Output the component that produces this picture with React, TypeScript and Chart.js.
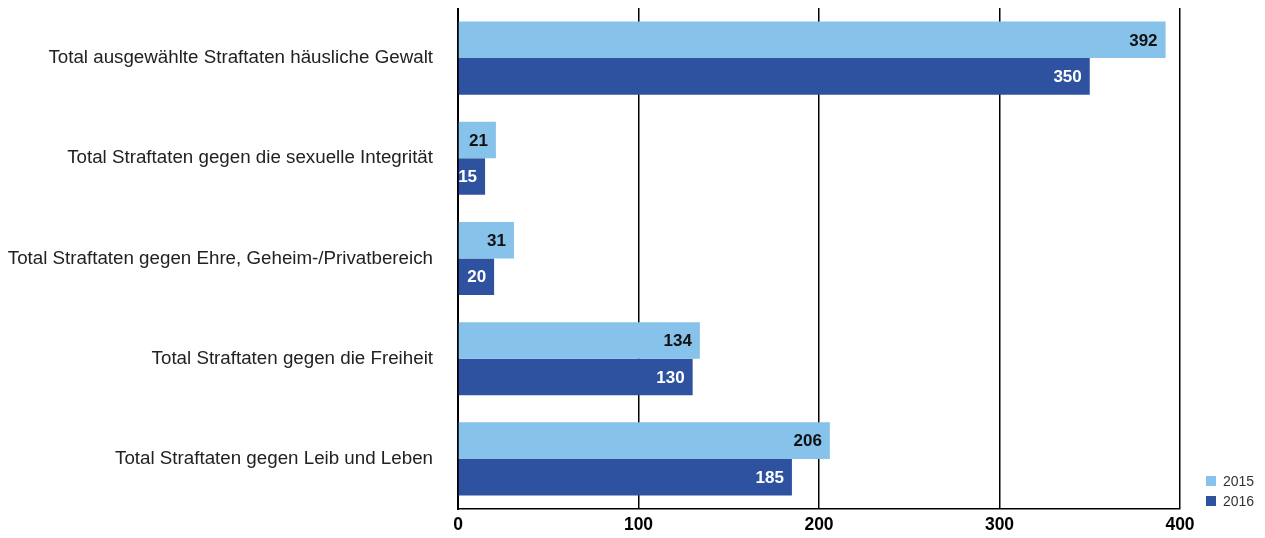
import React, { useEffect, useRef } from "react";
import { Chart, registerables } from "chart.js";

Chart.register(...registerables);

const categories = [
  "Total ausgewählte Straftaten häusliche Gewalt",
  "Total Straftaten gegen die sexuelle Integrität",
  "Total Straftaten gegen Ehre, Geheim-/Privatbereich",
  "Total Straftaten gegen die Freiheit",
  "Total Straftaten gegen Leib und Leben",
];
const values2015 = [392, 21, 31, 134, 206];
const values2016 = [350, 15, 20, 130, 185];
const seriesLabels = ["2015", "2016"];
const seriesColors = ["#86C2EA", "#2E52A0"];
const xTicks = [0, 100, 200, 300, 400];

const FONT = "'Liberation Sans', Arial, Helvetica, sans-serif";

const valueLabels = {
  id: "valueLabels",
  afterDatasetsDraw(chart: any) {
    const ctx = chart.ctx;
    ctx.save();
    ctx.font = `bold 17px ${FONT}`;
    ctx.textBaseline = "middle";
    ctx.textAlign = "right";
    chart.data.datasets.forEach((ds: any, di: number) => {
      const meta = chart.getDatasetMeta(di);
      ctx.fillStyle = di === 0 ? "#111111" : "#ffffff";
      meta.data.forEach((bar: any, i: number) => {
        ctx.fillText(String(ds.data[i]), bar.x - 8, bar.y + 1);
      });
    });
    ctx.restore();
  },
};

const sideLegend = {
  id: "sideLegend",
  afterDraw(chart: any) {
    const ctx = chart.ctx;
    const area = chart.chartArea;
    const n = chart.data.datasets.length;
    ctx.save();
    ctx.font = `14px ${FONT}`;
    ctx.textBaseline = "middle";
    ctx.textAlign = "left";
    chart.data.datasets.forEach((ds: any, i: number) => {
      const cy = area.bottom - 8 - (n - 1 - i) * 20;
      ctx.fillStyle = ds.backgroundColor;
      ctx.fillRect(area.right + 26, cy - 5, 10, 10);
      ctx.fillStyle = "#333333";
      ctx.fillText(ds.label, area.right + 43, cy + 1);
    });
    ctx.restore();
  },
};

export default function App() {
  const ref = useRef<HTMLCanvasElement | null>(null);
  useEffect(() => {
    if (!ref.current) return;
    const chart = new Chart(ref.current, {
      type: "bar",
      data: {
        labels: categories,
        datasets: [
          {
            label: seriesLabels[0],
            data: values2015,
            backgroundColor: seriesColors[0],
            categoryPercentage: 0.73,
            barPercentage: 1,
          },
          {
            label: seriesLabels[1],
            data: values2016,
            backgroundColor: seriesColors[1],
            categoryPercentage: 0.73,
            barPercentage: 1,
          },
        ],
      },
      options: {
        indexAxis: "y",
        animation: false,
        responsive: true,
        maintainAspectRatio: false,
        layout: { padding: { top: 0, right: 77, bottom: 0, left: 0 } },
        scales: {
          x: {
            min: 0,
            max: 400,
            afterBuildTicks: (scale: any) => {
              scale.ticks = xTicks.map((v) => ({ value: v }));
            },
            grid: { color: "#000000", lineWidth: 1.5, drawTicks: false },
            border: { color: "#000000", width: 1.5 },
            ticks: {
              padding: 6,
              color: "#000000",
              font: { family: FONT, size: 17.5, weight: "bold" },
            },
          },
          y: {
            grid: { display: false, drawTicks: false },
            border: { color: "#000000", width: 2 },
            afterFit: (scale: any) => {
              scale.width = 450;
              scale.paddingTop = 0;
              scale.paddingBottom = 0;
            },
            ticks: {
              padding: 25,
              color: "#222222",
              font: { family: FONT, size: 18.75 },
            },
          },
        },
        plugins: {
          legend: { display: false },
          tooltip: { enabled: false },
        },
      },
      plugins: [valueLabels, sideLegend],
    });
    return () => chart.destroy();
  }, []);
  return (
    <div
      style={{
        width: "1249px",
        height: "534px",
        marginBottom: "-12px",
        position: "relative",
      }}
    >
      <canvas ref={ref} />
    </div>
  );
}
